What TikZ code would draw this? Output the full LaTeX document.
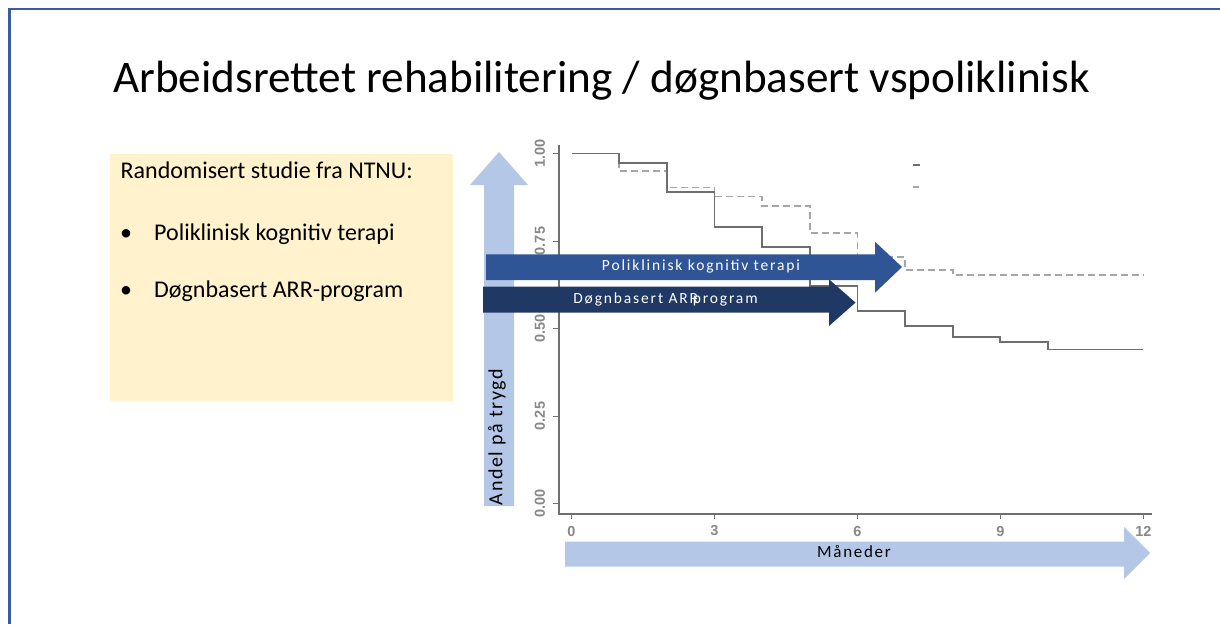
\documentclass[tikz,border=0pt]{standalone}
\usepackage{fontspec}
\setmainfont{Carlito}
\newfontfamily\spaced[LetterSpace=12]{Carlito}
\newfontfamily\ticks{Liberation Sans}
\definecolor{framecol}{HTML}{3A5DA0}
\definecolor{lightarrow}{HTML}{B4C7E7}
\definecolor{midarrow}{HTML}{2F5597}
\definecolor{darkarrow}{HTML}{203864}
\definecolor{boxfill}{HTML}{FFF2CC}
\definecolor{solidcol}{HTML}{6E6E6E}
\definecolor{dashcol}{HTML}{A6A6A6}
\definecolor{axiscol}{HTML}{707070}
\definecolor{tickcol}{HTML}{888888}
\begin{document}
\begin{tikzpicture}[x=1pt,y=-1pt,
  boxtext/.style={anchor=base west,font=\fontsize{24}{28}\selectfont,inner sep=0pt},
  arrowtext/.style={font=\spaced\fontsize{15.5}{18}\selectfont,text=white,inner sep=0pt},
  ticklab/.style={font=\ticks\bfseries\fontsize{14.5}{16}\selectfont,text=tickcol,inner sep=0pt},
  axisline/.style={draw=axiscol,line width=1.4pt},
]
\useasboundingbox (0,0) rectangle (1220,624);
\fill[white] (0,0) rectangle (1220,624);
% slide frame
\draw[framecol,line width=2.6pt] (9.5,624) |- (1220,9);
% title
\node[anchor=base west,inner sep=0pt,font=\fontsize{45.2}{52}\selectfont] (title) at (113,92)
  {Arbeidsrettet rehabilitering / døgnbasert vspoliklinisk};
% yellow box
\fill[boxfill] (110,154) rectangle (453,401);
\node[boxtext] (intro) at (120.5,178.5) {Randomisert studie fra NTNU:};
\node[boxtext] (b1) at (120,240) {•};
\node[boxtext] (t1) at (154,240) {Poliklinisk kognitiv terapi};
\node[boxtext] (b2) at (120,297) {•};
\node[boxtext] (t2) at (154,297) {Døgnbasert ARR-program};
% plot: axes
\draw[axisline] (559,145) -- (559,514) -- (1152,514);
\foreach \yy/\lab in {153.5/1.00,241/0.75,328.5/0.50,416/0.25,503.5/0.00}{
  \draw[axisline,line width=1pt] (553,\yy) -- (559,\yy);
  \node[ticklab,rotate=90] at (540,\yy) {\lab};
}
\foreach \m in {0,3,6,9,12}{
  \draw[axisline,line width=1pt] ({571.5+47.65*\m},514) -- ({571.5+47.65*\m},519);
  \node[ticklab] at ({571.5+47.65*\m},531) {\m};
}
% curves
\begin{scope}[shift={(571.5,503.5)},x=47.65pt,y=350pt]
  \draw[dashcol,line width=1.8pt,dash pattern=on 7pt off 4pt]
    (0,1) -| (1,0.949) -| (2,0.903) -| (3,0.877) -| (4,0.85) -| (5,0.773)
    -| (6,0.704) -| (7,0.668) -| (8,0.653) -- (12,0.653);
  \draw[solidcol,line width=1.8pt]
    (0,1) -| (1,0.974) -| (2,0.89) -| (3,0.789) -| (4,0.732) -| (5,0.622)
    -| (6,0.55) -| (7,0.507) -| (8,0.476) -| (9,0.462) -| (10,0.44) -- (12,0.44);
\end{scope}
% legend remnants
\draw[solidcol,line width=1.5pt] (913,165) -- (920,165);
\draw[dashcol,line width=1.5pt] (913,187) -- (919,187);
% vertical light arrow
\fill[lightarrow] (484,506) -- (484,185) -- (470,185) -- (499,152) -- (528,185) -- (514,185) -- (514,506) -- cycle;
\node[font=\fontsize{20}{22}\selectfont\addfontfeature{LetterSpace=8},rotate=90,inner sep=0pt] (ylab) at (497,437) {Andel på trygd};
% Maaneder arrow
\fill[lightarrow] (565,541.5) -- (1124,541.5) -- (1124,527) -- (1150,553) -- (1124,579) -- (1124,566.5) -- (565,566.5) -- cycle;
\node[font=\fontsize{17}{19}\selectfont\addfontfeature{LetterSpace=10},inner sep=0pt] (xlab) at (854,552) {Måneder};
% Poliklinisk arrow
\fill[midarrow] (486,254.3) -- (875,254.3) -- (875,241.7) -- (902,267) -- (875,292.7) -- (875,280) -- (486,280) -- cycle;
\node[arrowtext] (pk) at (701,266.5) {Poliklinisk kognitiv terapi};
% Doegnbasert arrow
\fill[darkarrow] (483,286.5) -- (829,286.5) -- (829,279.3) -- (855.5,302.6) -- (829,326) -- (829,312.7) -- (483,312.7) -- cycle;
\node[arrowtext] (dg) at (665.5,299.5) {Døgnbasert ARR\kern-5pt-\kern-5pt program};
\end{tikzpicture}
\end{document}
